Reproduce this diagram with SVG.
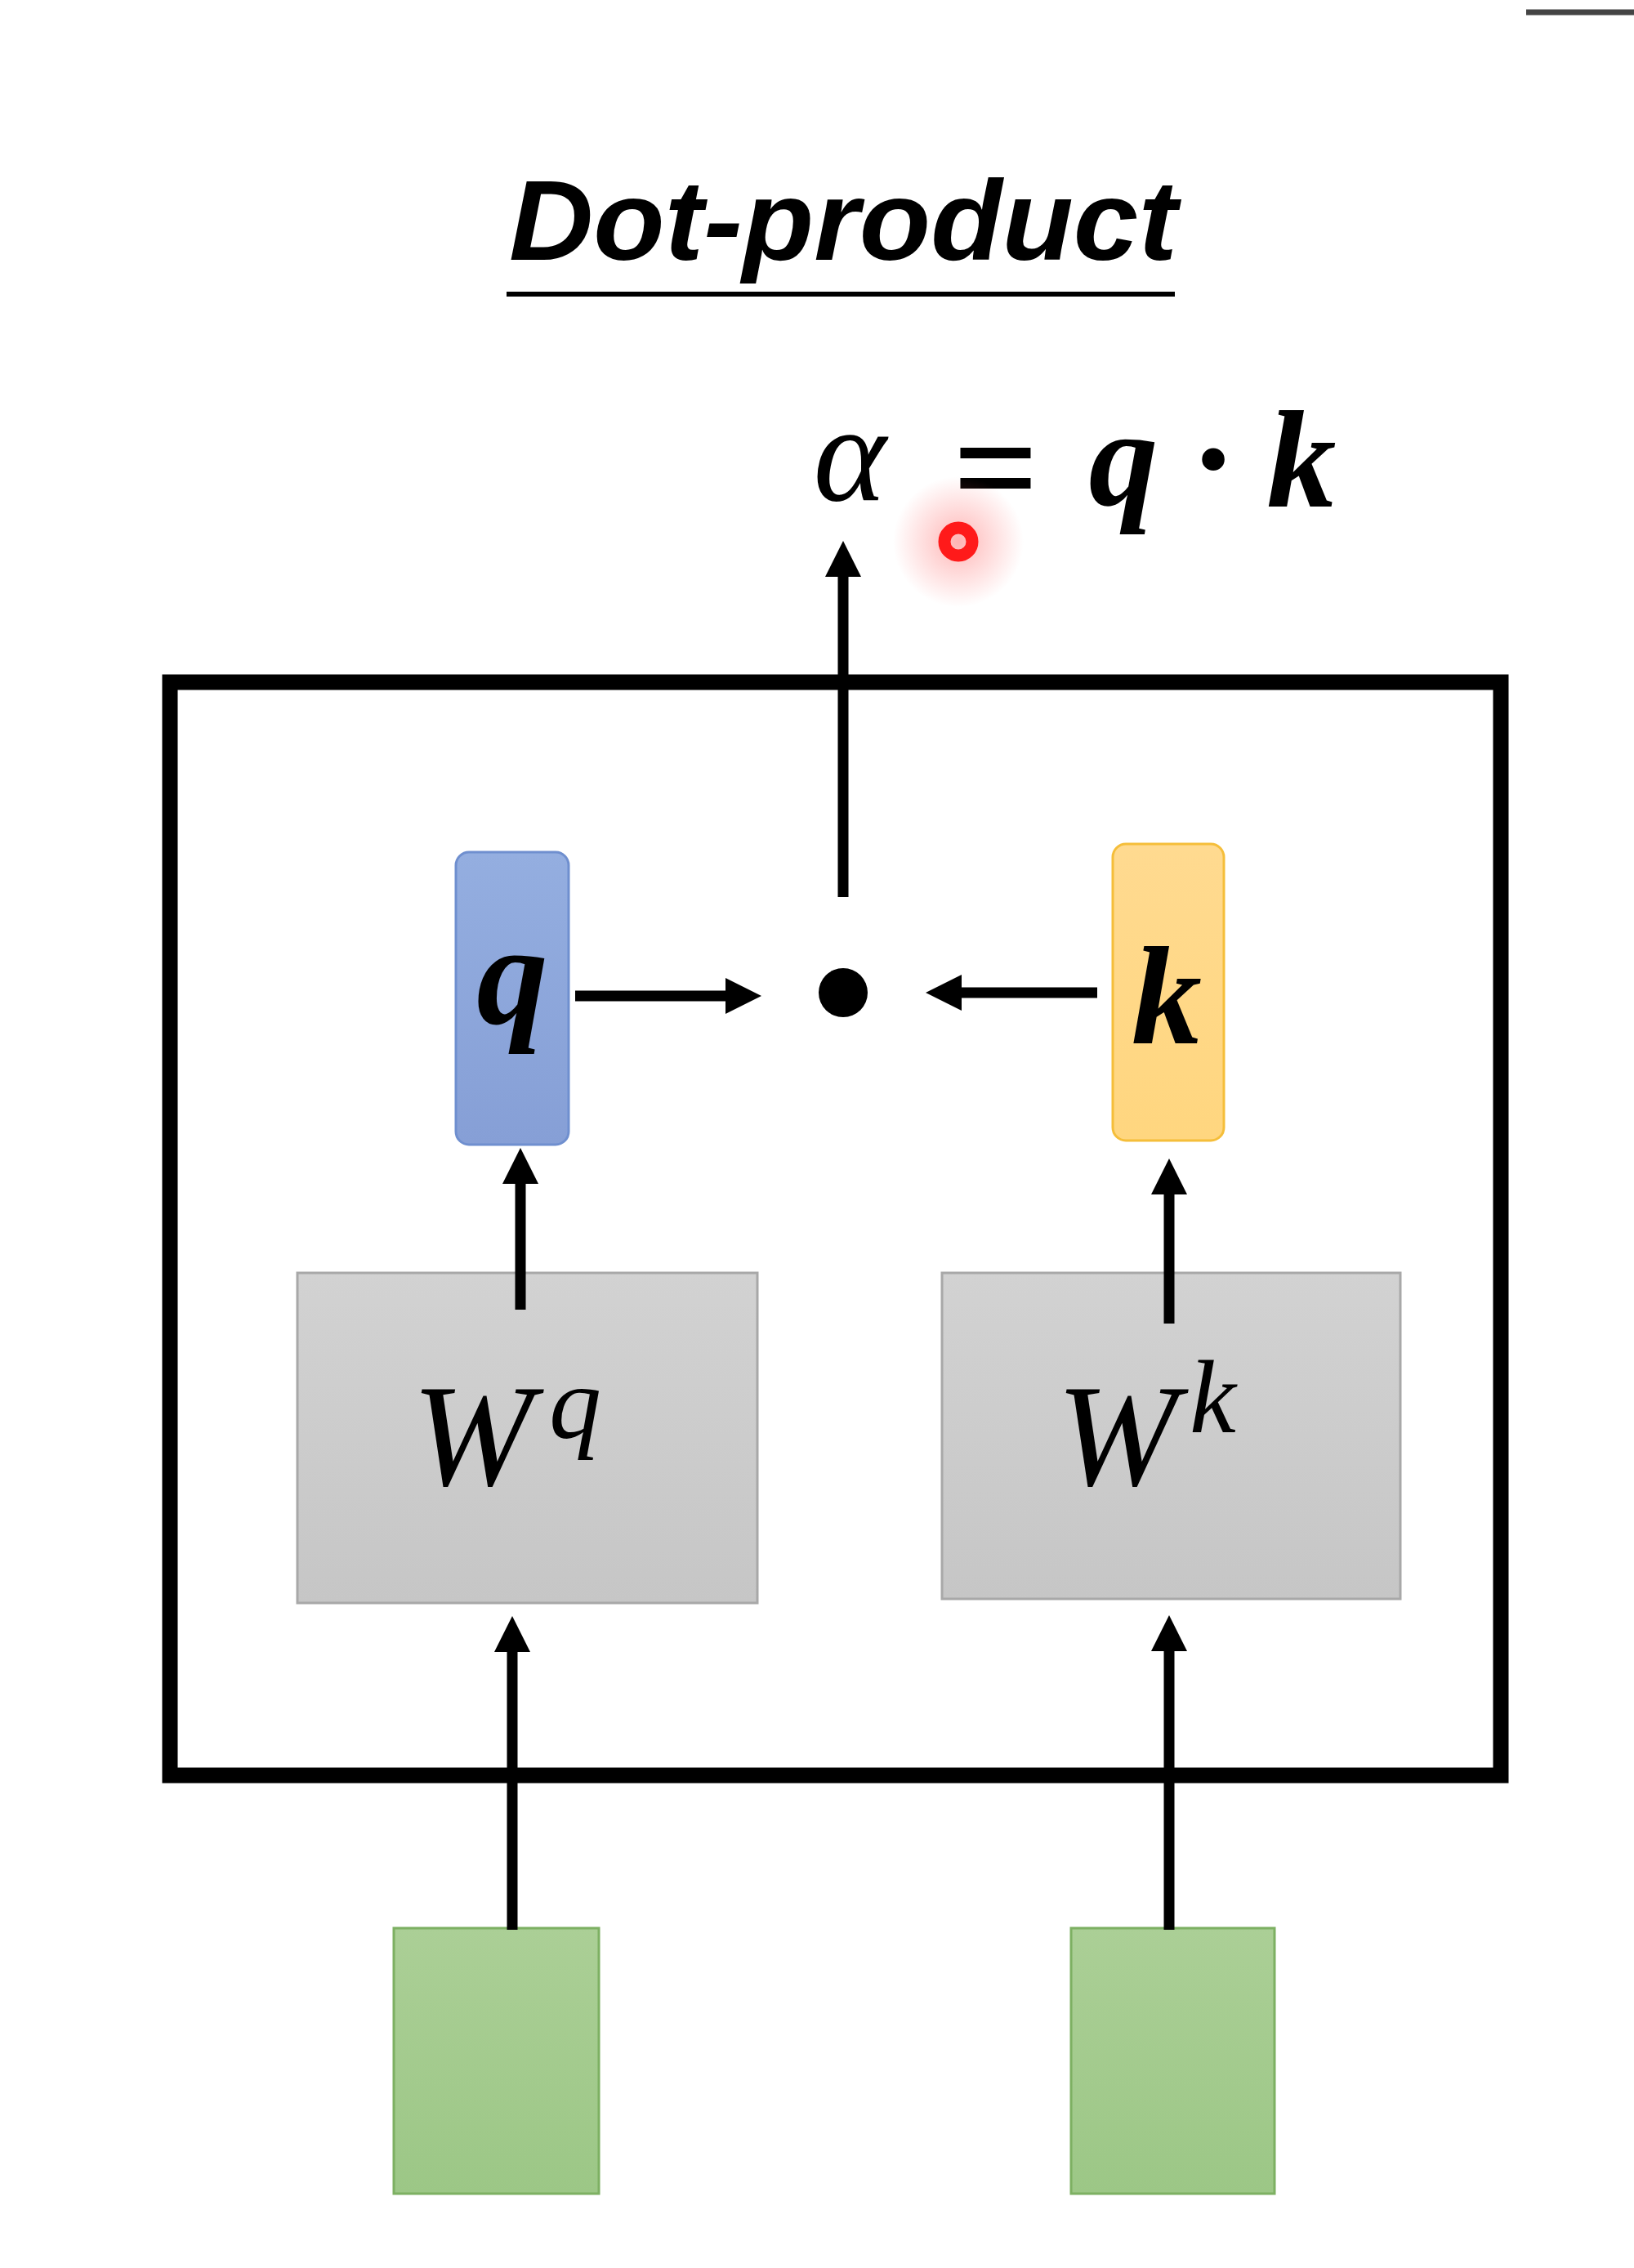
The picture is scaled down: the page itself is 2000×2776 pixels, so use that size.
<svg xmlns="http://www.w3.org/2000/svg" width="2000" height="2776" viewBox="0 0 2000 2776">
  <style>
    .conn { stroke: #000; stroke-width: 13; fill: none; marker-end: url(#arrow); }
    .serif { font-family: "Liberation Serif", "DejaVu Serif", serif; fill: #000; }
  </style>
  <defs>
    <marker id="arrow" markerUnits="userSpaceOnUse" markerWidth="44" markerHeight="44" refX="12" refY="22" orient="auto">
      <path d="M0,0 L44,22 L0,44 z" fill="#000"/>
    </marker>
    <linearGradient id="gBlue" x1="0" y1="0" x2="0" y2="1">
      <stop offset="0" stop-color="#94AEE0"/>
      <stop offset="1" stop-color="#869FD6"/>
    </linearGradient>
    <linearGradient id="gOrange" x1="0" y1="0" x2="0" y2="1">
      <stop offset="0" stop-color="#FFDA90"/>
      <stop offset="1" stop-color="#FFD67F"/>
    </linearGradient>
    <linearGradient id="gGray" x1="0" y1="0" x2="0" y2="1">
      <stop offset="0" stop-color="#D2D2D2"/>
      <stop offset="1" stop-color="#C6C6C6"/>
    </linearGradient>
    <linearGradient id="gGreen" x1="0" y1="0" x2="0" y2="1">
      <stop offset="0" stop-color="#ABCF96"/>
      <stop offset="1" stop-color="#9CC786"/>
    </linearGradient>
    <radialGradient id="glow" cx="0.5" cy="0.5" r="0.5">
      <stop offset="0" stop-color="#FF4040" stop-opacity="0.4"/>
      <stop offset="0.6" stop-color="#FF6060" stop-opacity="0.18"/>
      <stop offset="1" stop-color="#FF6060" stop-opacity="0"/>
    </radialGradient>
  </defs>

  <rect x="0" y="0" width="2000" height="2776" fill="#FFFFFF"/>

  <!-- top-right fragment line -->
  <line x1="1868" y1="15" x2="2000" y2="15" stroke="#444" stroke-width="7"/>

  <!-- title -->
  <g id="title">
    <text x="623" y="318" font-family="Liberation Sans, Arial, sans-serif" font-weight="bold" font-style="italic" font-size="140" textLength="818" lengthAdjust="spacingAndGlyphs">Dot-product</text>
    <line x1="620" y1="360" x2="1438" y2="360" stroke="#000" stroke-width="6"/>
  </g>

  <!-- formula -->
  <g id="formula">
    <text class="serif" x="1040" y="612" font-size="170" font-style="italic" text-anchor="middle">α</text>
    <text class="serif" x="1219" y="634" font-size="185" font-weight="bold" text-anchor="middle">=</text>
    <text class="serif" x="1375" y="618" font-size="170" font-style="italic" font-weight="bold" text-anchor="middle">q</text>
    <text class="serif" x="1485" y="618" font-size="170" font-weight="bold" text-anchor="middle">·</text>
    <text class="serif" x="1593" y="620" font-size="170" font-style="italic" font-weight="bold" text-anchor="middle">k</text>
  </g>

  <!-- mouse pointer highlight -->
  <g id="pointer">
    <circle cx="1173" cy="663" r="80" fill="url(#glow)"/>
    <circle cx="1173" cy="663" r="17" fill="none" stroke="#FF1A1A" stroke-width="15"/>
  </g>

  <!-- outer frame -->
  <g id="frame">
    <rect x="208" y="835" width="1629" height="1338" fill="none" stroke="#000" stroke-width="19"/>
  </g>

  <!-- nodes -->
  <g id="node-q">
    <rect x="558" y="1043" width="138" height="358" rx="16" fill="url(#gBlue)" stroke="#6F8FCF" stroke-width="3"/>
    <text class="serif" x="627" y="1253" font-size="175" font-style="italic" font-weight="bold" text-anchor="middle">q</text>
  </g>
  <g id="node-k">
    <rect x="1362" y="1033" width="136" height="363" rx="16" fill="url(#gOrange)" stroke="#F5BE3A" stroke-width="3"/>
    <text class="serif" x="1428" y="1277" font-size="172" font-style="italic" font-weight="bold" text-anchor="middle">k</text>
  </g>
  <g id="node-dot">
    <circle cx="1032" cy="1215" r="30" fill="#000"/>
  </g>
  <g id="node-Wq">
    <rect x="364" y="1558" width="563" height="404" fill="url(#gGray)" stroke="#A8A8A8" stroke-width="3"/>
    <text class="serif" x="504" y="1817" font-size="178" font-style="italic">W</text>
    <text class="serif" x="672" y="1760" font-size="128" font-style="italic">q</text>
  </g>
  <g id="node-Wk">
    <rect x="1153" y="1558" width="561" height="399" fill="url(#gGray)" stroke="#A8A8A8" stroke-width="3"/>
    <text class="serif" x="1293" y="1817" font-size="178" font-style="italic">W</text>
    <text class="serif" x="1456" y="1753" font-size="128" font-style="italic">k</text>
  </g>
  <g id="node-input1">
    <rect x="482" y="2360" width="251" height="325" fill="url(#gGreen)" stroke="#7DB062" stroke-width="3"/>
  </g>
  <g id="node-input2">
    <rect x="1311" y="2360" width="249" height="325" fill="url(#gGreen)" stroke="#7DB062" stroke-width="3"/>
  </g>

  <!-- connectors -->
  <g id="connectors">
    <line class="conn" x1="1032" y1="1098" x2="1032" y2="694"/>
    <line class="conn" x1="704" y1="1219" x2="900" y2="1219"/>
    <line class="conn" x1="1343" y1="1215" x2="1165" y2="1215"/>
    <line class="conn" x1="637" y1="1603" x2="637" y2="1437"/>
    <line class="conn" x1="1431" y1="1620" x2="1431" y2="1450"/>
    <line class="conn" x1="627" y1="2362" x2="627" y2="2010"/>
    <line class="conn" x1="1431" y1="2362" x2="1431" y2="2009"/>
  </g>
</svg>
